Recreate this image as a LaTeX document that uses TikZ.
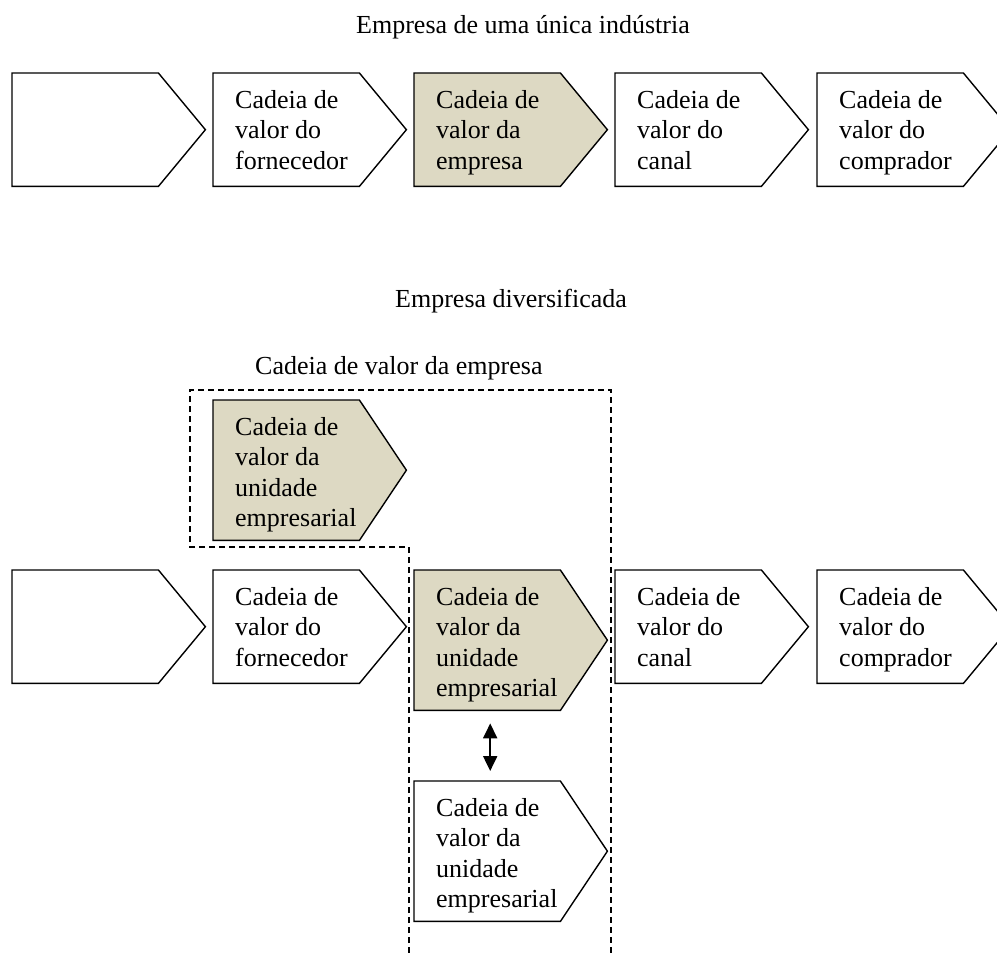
\documentclass[tikz,border=0pt]{standalone}
\usepackage{fontspec}
\setmainfont{Liberation Serif}
\usetikzlibrary{calc,arrows.meta}

\definecolor{tan}{HTML}{DDD9C3}

\tikzset{
  boxline/.style={draw=black, line width=1.4pt, line join=miter},
  boxfont/.style={font=\fontsize{26}{30.5}\selectfont},
  boxtext/.style={boxfont, inner sep=0pt, align=left, anchor=north west},
  label/.style={boxfont, inner sep=0pt, anchor=base west},
  zone/.style={draw=black, line width=1.3pt, dash pattern=on 6pt off 4pt},
  link/.style={line width=2pt, {Triangle[width=14pt,length=15pt]}-{Triangle[width=14pt,length=15pt]}}
}

% value-chain chevron: name, left x, top y, height, fill, text
\newcommand{\chainbox}[6]{%
  \node[inner sep=0pt, minimum width=146pt, minimum height=#4pt,
        anchor=north west] (#1) at (#2pt,-#3pt) {};
  \draw[boxline, fill=#5] (#1.north west) -- (#1.north east)
    -- ($(#1.east)+(47pt,0)$) -- (#1.south east) -- (#1.south west) -- cycle;
  \node[boxtext] (#1-t) at ($(#1.north west)+(22pt,-17.2pt)$) {#6};
}

\begin{document}
\begin{tikzpicture}[x=1pt,y=1pt]
  \useasboundingbox (0,0) rectangle (997,-953);

  % single-industry company
  \node[label] (h1) at (356,-33) {Empresa de uma única indústria};
  \chainbox{a1}{12}{73}{113}{white}{}
  \chainbox{a2}{213}{73}{113}{white}{Cadeia de\\valor do\\fornecedor}
  \chainbox{a3}{414}{73}{113}{tan}{Cadeia de\\valor da\\empresa}
  \chainbox{a4}{615}{73}{113}{white}{Cadeia de\\valor do\\canal}
  \chainbox{a5}{817}{73}{113}{white}{Cadeia de\\valor do\\comprador}

  % diversified company
  \node[label] (h2) at (395,-307) {Empresa diversificada};
  \node[label] (h3) at (255,-374) {Cadeia de valor da empresa};

  \draw[zone] (409,-953) -- (409,-547) -- (190,-547) -- (190,-390)
    -- (611,-390) -- (611,-953);

  \chainbox{u1}{213}{400}{140}{tan}{Cadeia de\\valor da\\unidade\\empresarial}
  \chainbox{b1}{12}{570}{113}{white}{}
  \chainbox{b2}{213}{570}{113}{white}{Cadeia de\\valor do\\fornecedor}
  \chainbox{u2}{414}{570}{140}{tan}{Cadeia de\\valor da\\unidade\\empresarial}
  \chainbox{b4}{615}{570}{113}{white}{Cadeia de\\valor do\\canal}
  \chainbox{b5}{817}{570}{113}{white}{Cadeia de\\valor do\\comprador}
  \chainbox{u3}{414}{781}{140}{white}{Cadeia de\\valor da\\unidade\\empresarial}

  \draw[link] ([xshift=3pt,yshift=-13pt]u2.south) -- ([xshift=3pt,yshift=10pt]u3.north);
\end{tikzpicture}
\end{document}
